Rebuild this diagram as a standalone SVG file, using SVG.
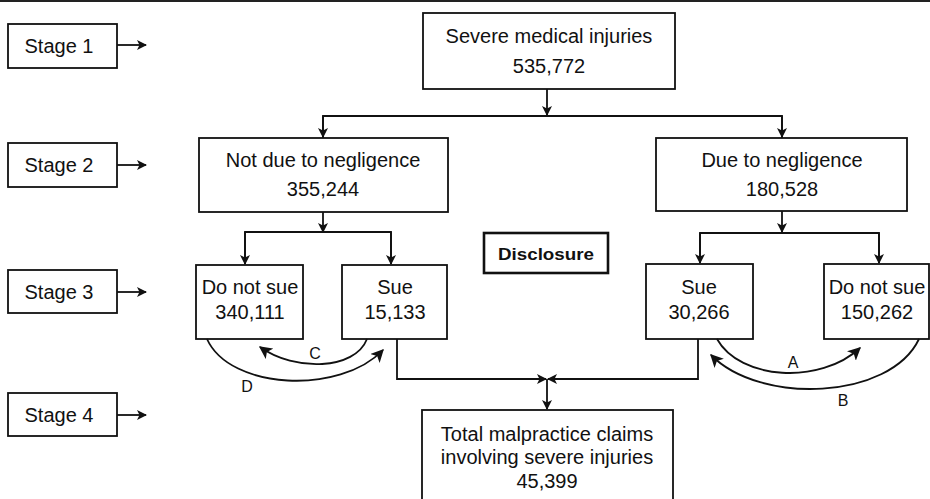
<svg xmlns="http://www.w3.org/2000/svg" width="930" height="499" viewBox="0 0 930 499">
<defs>
<marker id="ah" viewBox="0 0 10 10" refX="9" refY="5" markerWidth="10" markerHeight="10" markerUnits="userSpaceOnUse" orient="auto">
<path d="M0,0 L10,5 L0,10 L2.5,5 Z" fill="#111"/>
</marker>
<marker id="ah2" viewBox="0 0 10 10" refX="9" refY="5" markerWidth="13" markerHeight="13" markerUnits="userSpaceOnUse" orient="auto">
<path d="M0,0 L10,5 L0,10 L2.5,5 Z" fill="#111"/>
</marker>
</defs>
<style>
.box{fill:#fff;stroke:#111;stroke-width:1.8}
.t{font-family:"Liberation Sans",Arial,sans-serif;font-size:20px;fill:#111;text-anchor:middle}
.lab{font-family:"Liberation Sans",Arial,sans-serif;font-size:16px;fill:#111;text-anchor:middle}
.c{fill:none;stroke:#111;stroke-width:1.8}
</style>
<rect width="930" height="499" fill="#fff"/>
<line x1="0" y1="1" x2="930" y2="1" stroke="#222" stroke-width="2"/>

<g id="stage1"><rect class="box" x="8" y="24" width="109" height="44"/><text class="t" x="59" y="53">Stage 1</text></g>
<g id="stage2"><rect class="box" x="8" y="143" width="109" height="44"/><text class="t" x="59" y="172">Stage 2</text></g>
<g id="stage3"><rect class="box" x="8" y="270" width="109" height="43"/><text class="t" x="59" y="299">Stage 3</text></g>
<g id="stage4"><rect class="box" x="8" y="393" width="109" height="43"/><text class="t" x="59" y="422">Stage 4</text></g>

<g id="severe"><rect class="box" x="423" y="13" width="252" height="76"/><text class="t" x="549" y="43">Severe medical injuries</text><text class="t" x="549" y="73">535,772</text></g>
<g id="notdue"><rect class="box" x="199" y="138" width="249" height="74"/><text class="t" x="323" y="167">Not due to negligence</text><text class="t" x="323" y="196">355,244</text></g>
<g id="due"><rect class="box" x="656" y="138" width="251" height="73"/><text class="t" x="782" y="167">Due to negligence</text><text class="t" x="782" y="196">180,528</text></g>
<g id="disclosure"><rect x="484" y="233" width="124" height="40" fill="#fff" stroke="#111" stroke-width="2.6"/><text x="546" y="260" font-family="Liberation Sans, Arial, sans-serif" font-weight="bold" font-size="17" fill="#111" text-anchor="middle" textLength="96" lengthAdjust="spacingAndGlyphs">Disclosure</text></g>
<g id="donotsue1"><rect class="box" x="196" y="265" width="107" height="74"/><text class="t" x="250" y="294">Do not sue</text><text class="t" x="250" y="319">340,111</text></g>
<g id="sue1"><rect class="box" x="342" y="265" width="105" height="74"/><text class="t" x="395" y="294">Sue</text><text class="t" x="395" y="319">15,133</text></g>
<g id="sue2"><rect class="box" x="646" y="264" width="107" height="75"/><text class="t" x="699" y="294">Sue</text><text class="t" x="699" y="319">30,266</text></g>
<g id="donotsue2"><rect class="box" x="824" y="264" width="105" height="75"/><text class="t" x="877" y="294">Do not sue</text><text class="t" x="877" y="319">150,262</text></g>
<g id="total"><rect class="box" x="422" y="410" width="251" height="100"/><text class="t" x="547" y="441">Total malpractice claims</text><text class="t" x="547" y="464">involving severe injuries</text><text class="t" x="547" y="488">45,399</text></g>

<g id="connectors">
<path class="c" d="M117,45 H146" marker-end="url(#ah)"/>
<path class="c" d="M117,165 H146" marker-end="url(#ah)"/>
<path class="c" d="M117,292 H146" marker-end="url(#ah)"/>
<path class="c" d="M117,415 H146" marker-end="url(#ah)"/>

<path class="c" d="M547,89 V115" marker-end="url(#ah)"/>
<path class="c" d="M323,138 V116 H782 V138" />
<path class="c" d="M323,116 V137" marker-end="url(#ah)"/>
<path class="c" d="M782,116 V137" marker-end="url(#ah)"/>

<path class="c" d="M323,212 V232" marker-end="url(#ah)"/>
<path class="c" d="M245,264 V232 H391 V264"/>
<path class="c" d="M245,232 V264" marker-end="url(#ah)"/>
<path class="c" d="M391,232 V264" marker-end="url(#ah)"/>

<path class="c" d="M782,211 V232" marker-end="url(#ah)"/>
<path class="c" d="M700,263 V233 H879 V263"/>
<path class="c" d="M700,233 V263" marker-end="url(#ah)"/>
<path class="c" d="M879,233 V263" marker-end="url(#ah)"/>

<path class="c" d="M397,339 V379 H546" marker-end="url(#ah)"/>
<path class="c" d="M698,339 V379 H548" marker-end="url(#ah)"/>
<path class="c" d="M547,379 V409" marker-end="url(#ah)"/>

<path class="c" d="M207,339 C230,390 340,395 383,350" marker-end="url(#ah2)"/>
<path class="c" d="M367,339 C355,370 295,372 260,347" marker-end="url(#ah2)"/>
<path class="c" d="M717,339 C740,380 820,385 860,348" marker-end="url(#ah2)"/>
<path class="c" d="M919,339 C890,400 760,405 711,355" marker-end="url(#ah2)"/>
<text class="lab" x="315" y="359">C</text>
<text class="lab" x="247" y="392">D</text>
<text class="lab" x="793" y="368">A</text>
<text class="lab" x="843" y="406">B</text>
</g>
</svg>
